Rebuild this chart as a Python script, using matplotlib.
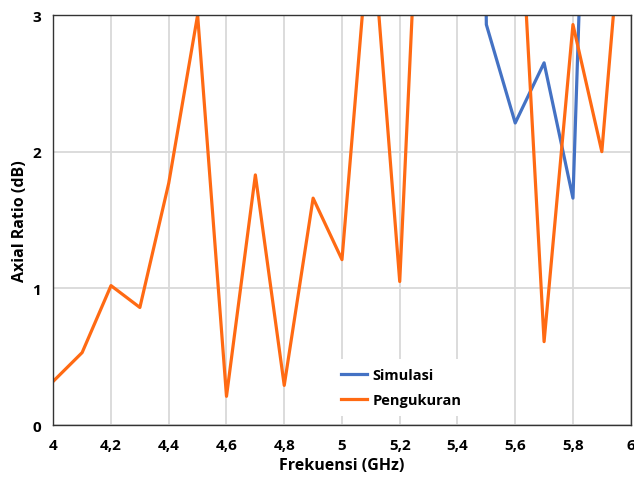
"""
Axial ratio plot: simulation vs measurement
"""

import matplotlib.pyplot as plt
from matplotlib.ticker import FuncFormatter, MultipleLocator

# Data
freq_sim = [5.4, 5.5, 5.6, 5.7, 5.8, 5.9]
ar_sim = [20.0, 2.93, 2.21, 2.65, 1.66, 8.1]

freq_meas = [4.0, 4.1, 4.2, 4.3, 4.4, 4.5, 4.6, 4.7, 4.8, 4.9, 5.0,
             5.1, 5.2, 5.3, 5.4, 5.5, 5.6, 5.7, 5.8, 5.9, 6.0]
ar_meas = [0.32, 0.53, 1.02, 0.86, 1.77, 3.0, 0.21, 1.83, 0.29, 1.66, 1.21,
           3.75, 1.05, 5.6, 6.0, 5.5, 4.5, 0.61, 2.93, 2.0, 4.5]

# Style
plt.rcParams["font.family"] = ["Open Sans", "DejaVu Sans"]
plt.rcParams["font.weight"] = "bold"

fig = plt.figure(figsize=(6.34, 4.85), dpi=100)
ax = fig.add_axes([0.084, 0.1216, 0.9108, 0.8454])

ax.plot(freq_sim, ar_sim, color="#4472C4", lw=2.3, label="Simulasi")
ax.plot(freq_meas, ar_meas, color="#FF6A13", lw=2.3, label="Pengukuran")

ax.set_xlim(4, 6)
ax.set_ylim(0, 3)
ax.xaxis.set_major_locator(MultipleLocator(0.2))
ax.yaxis.set_major_locator(MultipleLocator(1))
ax.xaxis.set_major_formatter(
    FuncFormatter(lambda v, p: f"{v:g}".replace(".", ","))
)

# Grid and frame
ax.grid(True, color="#d9d9d9", lw=1.3)
ax.set_axisbelow(True)
for s in ax.spines.values():
    s.set_color("#333333")
    s.set_linewidth(1.0)
ax.tick_params(length=0, labelsize=11, pad=9)
for lab in ax.get_xticklabels() + ax.get_yticklabels():
    lab.set_fontweight("bold")

ax.set_xlabel("Frekuensi (GHz)", fontsize=11.5, fontweight="bold", labelpad=4)
ax.set_ylabel("Axial Ratio (dB)", fontsize=11.5, fontweight="bold", labelpad=3)

leg = ax.legend(
    loc="lower left",
    bbox_to_anchor=(0.47, 0.005),
    frameon=True,
    fontsize=10.5,
    handlelength=1.8,
    handletextpad=0.4,
    labelspacing=0.75,
    borderpad=0.6,
)
leg.get_frame().set_facecolor("white")
leg.get_frame().set_edgecolor("none")
leg.get_frame().set_alpha(1.0)
for t in leg.get_texts():
    t.set_fontweight("bold")

plt.savefig("out.png", dpi=100)
